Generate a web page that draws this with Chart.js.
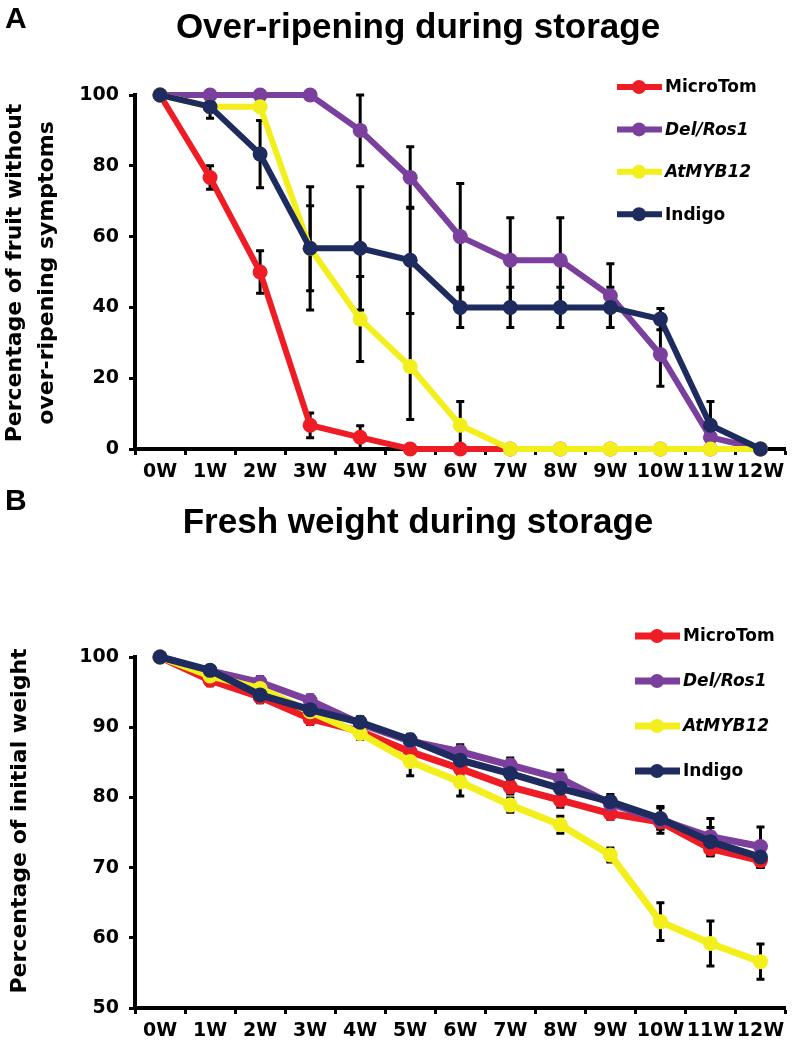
<!DOCTYPE html>
<html lang="en">
<head>
<meta charset="utf-8" />
<title>Over-ripening and fresh weight during storage</title>
<script src="https://cdn.jsdelivr.net/npm/chart.js"></script>
<style>
    body { margin: 0; background: #fff; }
    .panel { position: absolute; left: 0; }
    #panelA { top: 0; }
    #panelB { top: 490px; }
</style>
</head>
<body>
<div class="panel" id="panelA"><canvas id="ripeChart" width="793" height="490"></canvas></div>
<div class="panel" id="panelB"><canvas id="weightChart" width="793" height="556"></canvas></div>

<script>
    // x axis - weeks of storage
    var weeks = ['0W', '1W', '2W', '3W', '4W', '5W', '6W', '7W', '8W', '9W', '10W', '11W', '12W'];
    var lineNames = ['MicroTom', 'Del/Ros1', 'AtMYB12', 'Indigo'];
    var lineColors = ['#ee1c25', '#7b3f9e', '#f3ef1c', '#1d2b5e'];

    // A - % fruit without over-ripening symptoms (mean and error)
    var ripeMicroTom = [100, 76.7, 50, 6.7, 3.3, 0, 0, 0, 0, 0, 0, 0, 0];
    var ripeMicroTomErr = [0, 3.3, 6, 3.5, 3.3, 0, 0, 0, 0, 0, 0, 0, 0];
    var ripeDelRos1 = [100, 100, 100, 100, 90, 76.7, 60, 53.3, 53.3, 43.3, 26.7, 3.3, 0];
    var ripeDelRos1Err = [0, 0, 0, 0, 10, 8.7, 15, 12, 12, 9, 9, 0, 0];
    var ripeAtMYB12 = [100, 96.7, 96.7, 56.7, 36.7, 23.3, 6.7, 0, 0, 0, 0, 0, 0];
    var ripeAtMYB12Err = [0, 0, 0, 12, 12, 15, 6.7, 0, 0, 0, 0, 0, 0];
    var ripeIndigo = [100, 96.7, 83.3, 56.7, 56.7, 53.3, 40, 40, 40, 40, 36.7, 6.7, 0];
    var ripeIndigoErr = [0, 3.3, 9.5, 17.4, 17.4, 15, 5.7, 5.7, 5.7, 5.7, 3, 6.7, 0];

    // B - % of initial fresh weight (mean and error)
    var wMicroTom = [100, 96.7, 94.3, 91.2, 89.4, 86.5, 84.1, 81.5, 79.6, 77.7, 76.5, 72.7, 71];
    var wMicroTomErr = [0, 0.8, 0.8, 0.8, 0.8, 0.8, 1, 1, 1, 0.8, 1, 1, 1];
    var wDelRos1 = [100, 98, 96.4, 93.8, 90.5, 88, 86.5, 84.6, 82.7, 79.1, 76.8, 74.4, 73];
    var wDelRos1Err = [0, 0.5, 0.8, 0.8, 0.8, 0.8, 1, 1, 1.2, 1, 1.9, 2.6, 2.8];
    var wAtMYB12 = [100, 97.3, 95.5, 92.2, 89.1, 85.1, 82.2, 78.9, 76.1, 71.8, 62.3, 59.2, 56.6];
    var wAtMYB12Err = [0, 0.5, 0.8, 0.8, 0.8, 2, 2, 1, 1.2, 1, 2.7, 3.2, 2.5];
    var wIndigo = [100, 98.1, 94.6, 92.5, 90.7, 88.2, 85.3, 83.4, 81.3, 79.4, 77, 73.7, 71.5];
    var wIndigoErr = [0, 0.5, 0.8, 0.8, 0.8, 0.8, 1, 1, 1, 1, 1.5, 2, 1.5];

    var tickFont = { family: "'DejaVu Sans', sans-serif", size: 19, weight: 'bold' };

    // black error bars drawn under the lines
    var errorBars = {
        id: 'errorBars',
        beforeDatasetsDraw: function (chart) {
            var ctx = chart.ctx, x = chart.scales.x, y = chart.scales.y;
            ctx.save();
            ctx.strokeStyle = '#000';
            ctx.lineWidth = 3;
            chart.data.datasets.forEach(function (ds) {
                ds.data.forEach(function (v, i) {
                    var e = ds.errors[i];
                    if (!e) return;
                    var px = x.getPixelForValue(i);
                    var top = y.getPixelForValue(v + e), bot = y.getPixelForValue(Math.max(v - e, y.min));
                    ctx.beginPath();
                    ctx.moveTo(px, top); ctx.lineTo(px, bot);
                    ctx.moveTo(px - 4, top); ctx.lineTo(px + 4, top);
                    ctx.moveTo(px - 4, bot); ctx.lineTo(px + 4, bot);
                    ctx.stroke();
                });
            });
            ctx.restore();
        }
    };

    // panel letter, title, rotated y title and the legend
    var panelText = {
        id: 'panelText',
        afterDraw: function (chart, args, o) {
            var ctx = chart.ctx;
            ctx.save();
            ctx.fillStyle = '#000';
            ctx.textBaseline = 'alphabetic';
            ctx.font = "bold 30px 'Liberation Sans', Arial, sans-serif";
            ctx.textAlign = 'left';
            ctx.fillText(o.letter, 5, o.letterY);
            ctx.font = "bold 35px 'Liberation Sans', Arial, sans-serif";
            ctx.textAlign = 'center';
            ctx.fillText(o.title, o.titleX, o.titleY);

            ctx.font = "bold 22px 'DejaVu Sans', sans-serif";
            ctx.textBaseline = 'middle';
            o.yTitle.forEach(function (line, k) {
                ctx.save();
                ctx.translate(o.yTitleX[k], o.yTitleY);
                ctx.rotate(-Math.PI / 2);
                ctx.fillText(line, 0, 0);
                ctx.restore();
            });

            chart.data.datasets.forEach(function (ds, k) {
                var ly = o.legendY + k * o.legendGap;
                ctx.strokeStyle = ds.borderColor;
                ctx.lineWidth = ds.borderWidth;
                ctx.beginPath();
                ctx.moveTo(o.legendX, ly); ctx.lineTo(o.legendX + 45, ly);
                ctx.stroke();
                ctx.fillStyle = ds.borderColor;
                ctx.beginPath();
                ctx.arc(o.legendX + 22, ly, 7, 0, Math.PI * 2);
                ctx.fill();
                ctx.fillStyle = '#000';
                ctx.textAlign = 'left';
                var italic = (ds.label === 'Del/Ros1' || ds.label === 'AtMYB12') ? 'italic ' : '';
                ctx.font = italic + "bold 17px 'DejaVu Sans', sans-serif";
                ctx.fillText(ds.label, o.legendX + 48, ly + 1);
            });
            ctx.restore();
        }
    };

    function makeSets(values, errors, width) {
        return values.map(function (v, k) {
            return {
                label: lineNames[k],
                data: v,
                errors: errors[k],
                borderColor: lineColors[k],
                backgroundColor: lineColors[k],
                pointBackgroundColor: lineColors[k],
                borderWidth: width,
                pointRadius: 7.5,
                pointBorderWidth: 0,
                pointHoverRadius: 7.5,
                tension: 0,
                clip: false,
                order: 4 - k
            };
        });
    }

    function makeOptions(yMin, yMax, step, topPad, xHeight, text) {
        return {
            responsive: false,
            animation: false,
            devicePixelRatio: 1,
            layout: { padding: { top: topPad, right: 6, left: 0, bottom: 0 } },
            plugins: { legend: { display: false }, tooltip: { enabled: false }, panelText: text },
            scales: {
                x: {
                    offset: true,
                    afterFit: function (s) { s.height = xHeight; },
                    grid: { offset: true, drawOnChartArea: false, tickLength: 6, tickWidth: 3, color: '#000' },
                    border: { color: '#000', width: 4 },
                    ticks: { color: '#000', font: tickFont, padding: 6, maxRotation: 0, autoSkip: false }
                },
                y: {
                    min: yMin, max: yMax,
                    afterFit: function (s) { s.width = 135; },
                    grid: { drawOnChartArea: false, tickLength: 6, tickWidth: 3, color: '#000' },
                    border: { color: '#000', width: 4 },
                    ticks: { stepSize: step, color: '#000', font: tickFont, padding: 10 }
                }
            }
        };
    }

    new Chart(document.getElementById('ripeChart').getContext('2d'), {
        type: 'line',
        data: {
            labels: weeks,
            datasets: makeSets([ripeMicroTom, ripeDelRos1, ripeAtMYB12, ripeIndigo],
                [ripeMicroTomErr, ripeDelRos1Err, ripeAtMYB12Err, ripeIndigoErr], 6)
        },
        options: makeOptions(0, 100, 20, 95, 41, {
            letter: 'A', letterY: 28, title: 'Over-ripening during storage', titleX: 418, titleY: 38,
            yTitle: ['Percentage of fruit without', 'over-ripening symptoms'], yTitleX: [15, 47], yTitleY: 273,
            legendX: 617, legendY: 87, legendGap: 42.4
        }),
        plugins: [errorBars, panelText]
    });

    new Chart(document.getElementById('weightChart').getContext('2d'), {
        type: 'line',
        data: {
            labels: weeks,
            datasets: makeSets([wMicroTom, wDelRos1, wAtMYB12, wIndigo],
                [wMicroTomErr, wDelRos1Err, wAtMYB12Err, wIndigoErr], 7)
        },
        options: makeOptions(50, 100, 10, 167, 38, {
            letter: 'B', letterY: 20, title: 'Fresh weight during storage', titleX: 418, titleY: 43,
            yTitle: ['Percentage of initial weight'], yTitleX: [20], yTitleY: 331,
            legendX: 635, legendY: 146, legendGap: 45
        }),
        plugins: [errorBars, panelText]
    });
</script>
</body>
</html>
